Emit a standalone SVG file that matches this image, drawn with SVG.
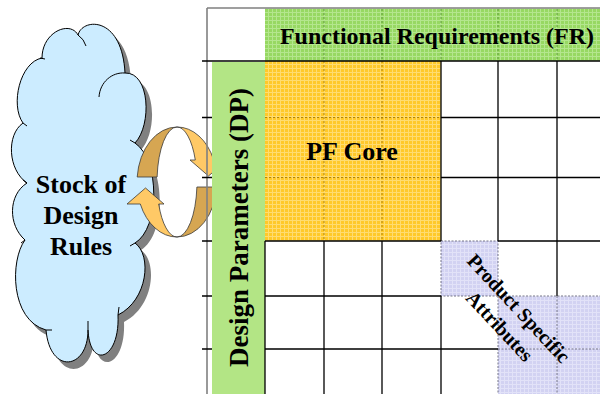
<svg xmlns="http://www.w3.org/2000/svg" width="600" height="394" viewBox="0 0 600 394">
<style>
text{font-family:'Liberation Serif','Times New Roman','DejaVu Serif',serif;font-weight:bold;fill:#000;text-anchor:middle}
.g{stroke:#000;stroke-width:1.3;fill:none}
.fr{stroke:#808080;stroke-width:1.6;fill:none}
.dg{stroke:#4f8a2c;stroke-width:0.8;stroke-dasharray:2 2;fill:none}
.dy{stroke:#9a7200;stroke-width:0.8;stroke-dasharray:2 2;fill:none}
.dl{stroke:#66667a;stroke-width:0.9;stroke-dasharray:2 1.5;fill:none}
.cl{fill:#CCECFF;stroke:#000;stroke-width:1}
.tail{fill:none;stroke:#000;stroke-width:1}
.lt{fill:#FFC966;stroke:#3a3a3a;stroke-width:0.8}
.dk{fill:#D6A652;stroke:#3a3a3a;stroke-width:0.8}
</style>
<defs>
<pattern id="pg" width="4" height="4" patternUnits="userSpaceOnUse">
<rect width="4" height="4" fill="#97D862"/>
<path d="M0 0.5H4M0.5 0V4" stroke="#B4E68E" stroke-width="1"/>
</pattern>
<pattern id="po" width="4" height="4" patternUnits="userSpaceOnUse">
<rect width="4" height="4" fill="#FFC929"/>
<path d="M0 0.5H4M0.5 0V4" stroke="#FFDC70" stroke-width="1"/>
</pattern>
<pattern id="pl" width="4" height="4" patternUnits="userSpaceOnUse">
<rect width="4" height="4" fill="#D2D2F2"/>
<path d="M0 0.5H4M0.5 0V4" stroke="#E2E2F8" stroke-width="1"/>
</pattern>
<path id="cloudShape" d="M42 58 C42 32 70 20 78 35 C82 18 122 15 125 73 C150 72 152 125 135 143 C160 160 160 228 135 243 C152 255 148 300 118 315 C120 360 90 370 88 330 C88 370 50 375 46 330 C10 320 10 260 25 240 C8 225 8 195 27 183 C8 170 6 135 23 123 C10 105 20 62 42 58 Z"/>
</defs>
<rect width="600" height="394" fill="#fff"/>

<g id="cloud">
<use href="#cloudShape" transform="translate(6,7)" fill="#808080"/>
<use href="#cloudShape" class="cl"/>
<path class="tail" d="M40 58 L45 59 M78 35 Q84 39 86 46 M99 97 C100 82 112 72 125 73 M135 143 L130 140 M135 243 L130 246 M118 315 L119 307 M88 330 L88 321 M46 330 L52 330 M23 123 L27 126 M27 183 L23 180 M25 240 L21 243"/>
<text x="81" y="193" font-size="26" font-family="Liberation Serif, serif">Stock of</text>
<text x="81" y="224" font-size="26" font-family="Liberation Serif, serif">Design</text>
<text x="81" y="255" font-size="26" font-family="Liberation Serif, serif">Rules</text>
</g>

<g id="cycle-arrows">
<path class="dk" d="M137.2 177 A40 55 0 0 1 177 127 A20 55 0 0 0 157.1 177 Z"/>
<path class="lt" d="M177 127 A40 55 0 0 1 213.7 160 L227 160 L208.5 176 L190 160 L195.3 160 A20 55 0 0 0 177 127 Z"/>
<g transform="rotate(180 177 182)">
<path class="dk" d="M137.2 177 A40 55 0 0 1 177 127 A20 55 0 0 0 157.1 177 Z"/>
<path class="lt" d="M177 127 A40 55 0 0 1 213.7 160 L227 160 L208.5 176 L190 160 L195.3 160 A20 55 0 0 0 177 127 Z"/>
</g>
</g>

<g id="fr-header">
<rect x="265" y="8.5" width="336" height="52.5" fill="url(#pg)"/>
<path class="dg" d="M324 9V61M382 9V61M441 9V61M498 9V61M557 9V61"/>
<text x="437" y="44" font-size="24" font-family="Liberation Serif, serif">Functional Requirements (FR)</text>
</g>

<g id="dp-header">
<rect x="212" y="62" width="53" height="332" fill="#B3E585"/>
<text transform="translate(248,227.5) rotate(-90)" font-size="27" font-family="Liberation Serif, serif">Design Parameters (DP)</text>
</g>

<g id="pf-core">
<rect x="265" y="61" width="176" height="180" fill="url(#po)"/>
<path class="dy" d="M324 61V241M382 61V241M265 117.5H441M265 177.5H441"/>
<text x="352" y="160" font-size="26" font-family="Liberation Serif, serif">PF Core</text>
</g>

<g id="product-specific">
<rect x="441" y="241" width="57" height="55" fill="url(#pl)"/>
<rect x="498" y="296" width="103" height="99" fill="url(#pl)"/>
<path class="dl" d="M441 241H498V296H441Z M498 296H601 M498 296V394 M557 296V394 M498 349H601"/>
<g transform="translate(513.7,313) rotate(47)">
<text x="0" y="0" font-size="20" font-family="Liberation Serif, serif">Product Specific</text>
<text x="0" y="26" font-size="20" font-family="Liberation Serif, serif">Attributes</text>
</g>
</g>

<g id="connectors">
<path class="fr" d="M207 8H601M207 8V394"/>
<path class="g" d="M202 61H601 M202 117.5H212 M202 177.5H212 M202 241H212 M202 296H212 M202 349H212
M441 117.5H601 M441 177.5H601 M265 241H441 M498 241H601 M265 296H441 M265 349H498
M265 241V394 M324 241V394 M382 241V394 M441 61V241 M441 296V394 M498 61V241 M557 61V296"/>
</g>
</svg>
